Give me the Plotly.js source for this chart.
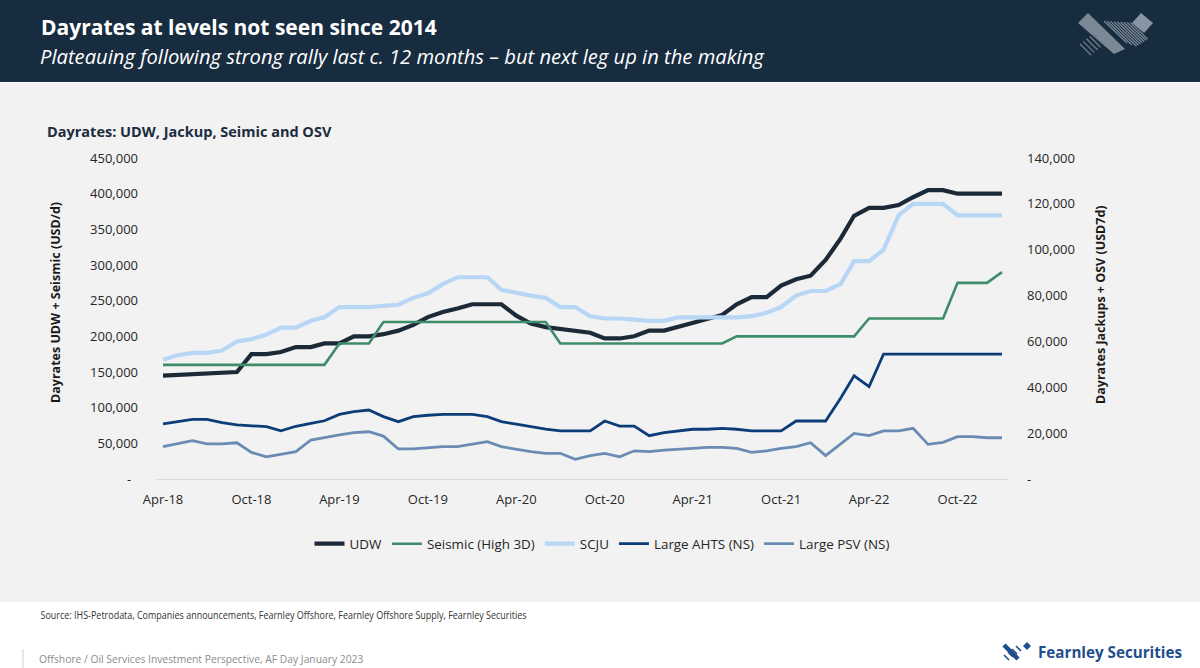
<!DOCTYPE html>
<html>
<head>
<meta charset="utf-8">
<script src="https://cdn.plot.ly/plotly-3.0.1.min.js"></script>
<style>
  html, body { margin: 0; padding: 0; background: #ffffff; }
  #chart { width: 1200px; height: 668px; }
</style>
</head>
<body>
<div id="chart"></div>
<script>
// ---------------- DATA ----------------
const months = [
  "2018-04-01","2018-05-01","2018-06-01","2018-07-01","2018-08-01","2018-09-01","2018-10-01","2018-11-01","2018-12-01",
  "2019-01-01","2019-02-01","2019-03-01","2019-04-01","2019-05-01","2019-06-01","2019-07-01","2019-08-01","2019-09-01",
  "2019-10-01","2019-11-01","2019-12-01","2020-01-01","2020-02-01","2020-03-01","2020-04-01","2020-05-01","2020-06-01",
  "2020-07-01","2020-08-01","2020-09-01","2020-10-01","2020-11-01","2020-12-01","2021-01-01","2021-02-01","2021-03-01",
  "2021-04-01","2021-05-01","2021-06-01","2021-07-01","2021-08-01","2021-09-01","2021-10-01","2021-11-01","2021-12-01",
  "2022-01-01","2022-02-01","2022-03-01","2022-04-01","2022-05-01","2022-06-01","2022-07-01","2022-08-01","2022-09-01",
  "2022-10-01","2022-11-01","2022-12-01","2023-01-01"
];

// Left axis (USD/d)
const udw = [
  145000,146000,146000,147000,148000,150000,175000,175000,178000,
  185000,185000,190000,190000,200000,200000,203000,208000,216000,
  227000,234000,239000,245000,245000,245000,229000,218000,213000,
  210000,208000,205000,197000,197000,200000,208000,208000,213000,
  218000,223000,230000,245000,255000,255000,271000,280000,285000,
  307000,337000,369000,380000,380000,384000,395000,405000,405000,
  400000,400000,400000,400000
];
const seismic = [
  160000,160000,160000,160000,160000,160000,160000,160000,160000,
  160000,160000,160000,190000,190000,190000,220000,220000,220000,
  220000,220000,220000,220000,220000,220000,220000,220000,220000,
  190000,190000,190000,190000,190000,190000,190000,190000,190000,
  190000,190000,190000,200000,200000,200000,200000,200000,200000,
  200000,200000,200000,225000,225000,225000,225000,225000,225000,
  275000,275000,275000,290000
];

// Right axis (USD/d)
const scju = [
  52000,54000,55000,55000,56000,60000,61000,63000,66000,
  66000,69000,70500,75000,75000,75000,75500,76000,79000,
  81000,85000,88000,88000,88000,82500,81000,80000,79000,
  75000,75000,71000,70000,70000,69500,69000,69000,70500,
  70500,70500,70500,70500,71000,72500,75000,80000,82000,
  82000,85000,95000,95000,100000,115000,120000,120000,120000,
  115000,115000,115000,115000
];
const ahts = [
  24000,25000,26000,26000,24600,23600,23100,22800,21000,
  23000,24300,25400,28200,29400,30100,27200,25000,27200,
  27800,28200,28200,28200,27200,25000,23900,22800,21800,
  21000,21000,21000,25300,23100,23100,18900,20200,21000,
  21700,21700,22100,21700,21000,21000,21000,25300,25300,
  25300,35200,45000,40300,54500,54500,54500,54500,54500,
  54500,54500,54500,54500
];
const psv = [
  14100,15300,16700,15300,15300,15800,11600,9700,10800,
  11900,17000,18200,19200,20200,20600,18700,13100,13100,
  13700,14100,14100,15300,16300,14100,13000,11900,11200,
  11200,8600,10200,11200,9700,12300,11900,12600,13100,
  13400,13800,13800,13400,11600,12300,13400,14100,15800,
  10200,15100,19900,18900,21000,21000,22100,15100,16000,
  18500,18500,18000,18000
];

const seriesNames = ["UDW","Seismic (High 3D)","SCJU","Large AHTS (NS)","Large PSV (NS)"];

const xTickVals = ["2018-04-01","2018-10-01","2019-04-01","2019-10-01","2020-04-01",
                   "2020-10-01","2021-04-01","2021-10-01","2022-04-01","2022-10-01"];
const xTickText = ["Apr-18","Oct-18","Apr-19","Oct-19","Apr-20","Oct-20","Apr-21","Oct-21","Apr-22","Oct-22"];

const yLeftVals = [0,50000,100000,150000,200000,250000,300000,350000,400000,450000];
const yLeftText = ["-\u00a0\u00a0","50,000","100,000","150,000","200,000","250,000","300,000","350,000","400,000","450,000"];
const yRightVals = [0,20000,40000,60000,80000,100000,120000,140000];
const yRightText = ["-","20,000","40,000","60,000","80,000","100,000","120,000","140,000"];

// ---------------- LAYOUT GEOMETRY ----------------
const W = 1200, H = 668;
const L = 157, R = 1008, T = 158, B = 479;
const PW = R - L, PH = B - T;
const px = x => (x - L) / PW;
const py = y => (B - y) / PH;
const pt = (x, y) => px(x).toFixed(5) + "," + py(y).toFixed(5);
const poly = pts => "M" + pts.map(p => pt(p[0], p[1])).join(" L") + " Z";

const FONT = "Open Sans, Noto Sans, DejaVu Sans, sans-serif";

const traces = [
  {x: months, y: udw, name: seriesNames[0], yaxis: "y",
   line: {color: "#1c2a38", width: 4.2}},
  {x: months, y: seismic, name: seriesNames[1], yaxis: "y",
   line: {color: "#3f8c6b", width: 2.6}},
  {x: months, y: scju, name: seriesNames[2], yaxis: "y2",
   line: {color: "#b8d6f6", width: 4.2}},
  {x: months, y: ahts, name: seriesNames[3], yaxis: "y2",
   line: {color: "#0d3d78", width: 2.8}},
  {x: months, y: psv, name: seriesNames[4], yaxis: "y2",
   line: {color: "#6a8cb4", width: 2.8}}
].map(t => Object.assign({type: "scatter", mode: "lines", hoverinfo: "skip"}, t));

// ---------------- SHAPES ----------------
const shapes = [];
function rectPx(x0, y0, x1, y1, color) {
  shapes.push({type: "rect", xref: "paper", yref: "paper", layer: "below",
    x0: px(x0), x1: px(x1), y0: py(y1), y1: py(y0),
    fillcolor: color, line: {width: 0}});
}
function linePx(x0, y0, x1, y1, color, w) {
  shapes.push({type: "line", xref: "paper", yref: "paper", layer: "above",
    x0: px(x0), y0: py(y0), x1: px(x1), y1: py(y1), line: {color: color, width: w}});
}
function polyPx(pts, color) {
  shapes.push({type: "path", xref: "paper", yref: "paper", layer: "above",
    path: poly(pts), fillcolor: color, line: {width: 0}});
}

// chart background and header band
rectPx(0, 83, W, 602, "#f2f2f2");
rectPx(0, 0, W, 82, "#182c3f");

// top-right header logo
polyPx([[1078,23],[1088,13],[1125,49],[1114,54]], "#7b8996");
polyPx([[1132,23],[1141,13],[1153,23],[1144,33]], "#8795a2");
for (let k = 0; k < 9; k++) {
  const sx = 1104 + 3.3 * k, sy = 21 + 0.2 * k;
  const len = 36 - Math.abs(k - 2) * 2;
  linePx(sx, sy, sx + len * 0.72, sy + len * 0.69, "#7b8996", 1.3);
}
for (let k = 0; k < 5; k++) {
  const sx = 1080 + 3.2 * k, sy = 44 - 2.6 * k;
  linePx(sx, sy, sx + 11, sy + 11, "#6f7d8a", 1.3);
}

// footer logo icon
linePx(1004, 645, 1018, 659, "#1f4e8c", 4.5);
polyPx([[1023,646],[1027,642],[1031,646],[1027,650]], "#1f4e8c");
for (let k = 0; k < 4; k++) {
  const sx = 1004 + 4 * k, sy = 655 - 3 * k;
  linePx(sx, sy, sx + 5, sy + 5, "#1f4e8c", 1.6);
}
// footer separator
linePx(23, 649, 23, 668, "#cfcfcf", 1);

// ---------------- ANNOTATIONS ----------------
function ann(text, x, y, size, color, opts) {
  return Object.assign({
    text: text, xref: "paper", yref: "paper", x: px(x), y: py(y),
    xanchor: "left", yanchor: "middle", showarrow: false,
    font: {family: FONT, size: size, color: color}
  }, opts || {});
}

const SOURCE_TEXT = "Source: IHS-Petrodata, Companies announcements, Fearnley Offshore, Fearnley Offshore Supply, Fearnley Securities";
const BRAND_TEXT = "Fearnley Securities";

const annotations = [
  ann("<b>Dayrates at levels not seen since 2014</b>", 39, 27, 21, "#ffffff"),
  ann("<i>Plateauing following strong rally last c. 12 months – but next leg up in the making</i>", 38, 56, 20.2, "#ffffff"),
  ann("<b>Dayrates: UDW, Jackup, Seimic and OSV</b>", 45, 131, 14.5, "#1b2c3e"),
  ann("<b>Dayrates UDW + Seismic (USD/d)</b>", 55, 303, 12.5, "#1a1a1a",
      {xanchor: "center", textangle: -90}),
  ann("<b>Dayrates Jackups + OSV (USD7d)</b>", 1100, 305, 12.5, "#1a1a1a",
      {xanchor: "center", textangle: -90}),
  ann(SOURCE_TEXT, 283, 615, 10.5, "#333333", {xanchor: "center"}),
  ann("Offshore / Oil Services Investment Perspective, AF Day January 2023", 37, 659, 10.3, "#8c8c8c"),
  ann("<b>" + BRAND_TEXT + "</b>", 1036, 652, 15.2, "#1f4e8c")
];

// ---------------- LAYOUT ----------------
const tickFont = {family: FONT, size: 13, color: "#262626"};

const layout = {
  width: W, height: H,
  margin: {l: L, r: W - R, t: T, b: H - B, pad: 0},
  paper_bgcolor: "#ffffff",
  plot_bgcolor: "rgba(0,0,0,0)",
  showlegend: true,
  legend: {
    orientation: "h", x: px(602), xanchor: "center", y: py(544), yanchor: "middle",
    font: {family: FONT, size: 13.4, color: "#262626"},
    bgcolor: "rgba(0,0,0,0)", itemwidth: 30, tracegroupgap: 0
  },
  xaxis: {
    type: "date",
    range: ["2018-03-19 14:00", "2023-01-13 10:00"],
    tickmode: "array", tickvals: xTickVals, ticktext: xTickText,
    tickfont: tickFont, ticks: "", showgrid: false, zeroline: false,
    showline: true, linecolor: "#d9d9d9", linewidth: 1.2,
    ticklabelstandoff: 8, fixedrange: true
  },
  yaxis: {
    range: [0, 450000], tickmode: "array", tickvals: yLeftVals, ticktext: yLeftText,
    tickfont: tickFont, ticks: "", showgrid: false, zeroline: false, showline: false,
    ticklabelstandoff: 18, fixedrange: true
  },
  yaxis2: {
    range: [0, 140000], overlaying: "y", side: "right",
    tickmode: "array", tickvals: yRightVals, ticktext: yRightText,
    tickfont: tickFont, ticks: "", showgrid: false, zeroline: false, showline: false,
    ticklabelstandoff: 18, fixedrange: true
  },
  shapes: shapes,
  annotations: annotations
};

// condense the source line to the width it takes in the reference
function condense(gd) {
  gd.querySelectorAll("text.annotation-text").forEach(el => {
    if (el.textContent === SOURCE_TEXT) {
      el.setAttribute("textLength", 486);
      el.setAttribute("lengthAdjust", "spacingAndGlyphs");
    }
  });
}

Plotly.newPlot("chart", traces, layout, {displayModeBar: false, staticPlot: true})
  .then(gd => condense(gd));
</script>
</body>
</html>
